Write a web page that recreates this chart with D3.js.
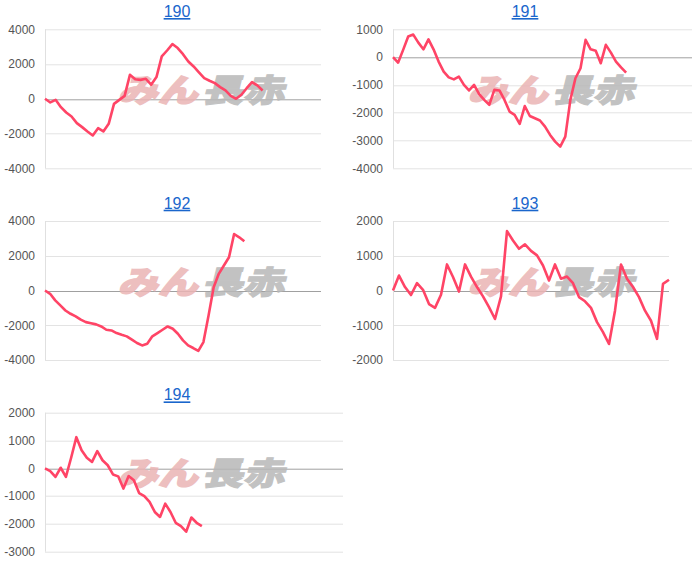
<!DOCTYPE html>
<html>
<head>
<meta charset="utf-8">
<script src="https://cdn.jsdelivr.net/npm/d3@7"></script>
<style>
  body { margin: 0; background: #fff; }
  svg { display: block; }
</style>
</head>
<body>
<svg width="700" height="576"></svg>
<script>
// machine numbers, one panel each
var machines = ["190", "191", "192", "193", "194"];

// cumulative difference per point
var series190 = [0, -210, -60, -480, -790, -1020, -1400, -1630, -1880, -2110, -1690, -1880, -1440, -290, -60, 170,
    1380, 1130, 1090, 1150, 810, 1250, 2440, 2780, 3150, 2920, 2570, 2150, 1860, 1520, 1190, 1040, 900, 670, 480,
    170, 0, 230, 610, 960, 770, 480];
var series191 = [0, -200, 260, 740, 810, 520, 280, 640, 280, -160, -520, -730, -800, -700, -1000, -1200, -1000,
    -1330, -1540, -1720, -1180, -1200, -1540, -1960, -2080, -2400, -1760, -2120, -2200, -2280, -2500, -2800, -3040,
    -3220, -2860, -1540, -760, -400, 620, 280, 230, -220, 440, 160, -160, -370, -560];
var series192 = [0, -190, -570, -860, -1150, -1340, -1490, -1680, -1820, -1880, -1950, -2070, -2260, -2300, -2450,
    -2550, -2640, -2830, -3020, -3160, -3060, -2640, -2450, -2260, -2070, -2200, -2490, -2870, -3160, -3310, -3480,
    -2970, -1440, 190, 960, 1440, 1910, 3250, 3060, 2830];
var series193 = [0, 430, 100, -130, 210, 20, -390, -500, -120, 750, 390, -30, 750, 400, 100, -170, -480, -820, -170,
    1710, 1440, 1200, 1330, 1140, 1010, 720, 290, 750, 340, 400, 210, -190, -310, -500, -910, -1200, -1540, -580,
    750, 340, 100, -190, -580, -870, -1390, 190, 310];
var series194 = [0, -100, -310, 20, -310, 380, 1120, 650, 380, 230, 620, 290, 110, -220, -290, -730, -280, -430,
    -890, -1000, -1210, -1570, -1750, -1270, -1570, -1960, -2080, -2280, -1770, -1960, -2080];
var allSeries = [series190, series191, series192, series193, series194];

// number of x slots on each panel's axis
var xSlots = [53, 60, 55, 47, 58];

// y tick labels per panel
var ticks190 = [-4000, -2000, 0, 2000, 4000];
var ticks191 = [-4000, -3000, -2000, -1000, 0, 1000];
var ticks192 = [-4000, -2000, 0, 2000, 4000];
var ticks193 = [-2000, -1000, 0, 1000, 2000];
var ticks194 = [-3000, -2000, -1000, 0, 1000, 2000];
var allTicks = [ticks190, ticks191, ticks192, ticks193, ticks194];

var svg = d3.select("svg");
var rowH = 191.7;
var colLeft = [45, 393];
var colMid = [177, 525];
var wmLeft = [110, 460];
var widths = [276, 299, 276, 276, 298];

machines.forEach(function(name, i) {
    var col = i % 2, row = Math.floor(i / 2);
    var top = row * rowH;
    var left = colLeft[col];
    var w = widths[i], h = 139;
    var tk = allTicks[i];

    var x = d3.scaleLinear().domain([0, xSlots[i] - 1]).range([0, w]);
    var y = d3.scaleLinear().domain(d3.extent(tk)).range([h, 0]);

    var g = svg.append("g").attr("transform", "translate(" + left + "," + (top + 29.3) + ")");

    // title link
    svg.append("text")
        .attr("x", colMid[col])
        .attr("y", top + 17)
        .attr("text-anchor", "middle")
        .style("font-family", "Arial, 'Liberation Sans', sans-serif")
        .style("font-size", "16px")
        .style("fill", "#1a66cc")
        .style("text-decoration", "underline")
        .text(name);

    // gridlines
    g.selectAll(".grid")
        .data(tk)
        .enter()
        .append("line")
        .attr("x1", 0)
        .attr("x2", w)
        .attr("y1", function(d) { return Math.round(y(d)) + 0.5; })
        .attr("y2", function(d) { return Math.round(y(d)) + 0.5; })
        .style("stroke", function(d) { return d == 0 ? "#a0a0a0" : "#e3e3e3"; })
        .style("stroke-width", 1);

    g.append("line")
        .attr("x1", 0.5).attr("x2", 0.5)
        .attr("y1", 0).attr("y2", h)
        .style("stroke", "#e0e0e0");

    // y labels
    var axis = d3.axisLeft(y).tickValues(tk).tickFormat(function(d) { return String(d); })
        .tickSize(0).tickPadding(10);
    var ag = g.append("g").call(axis);
    ag.select(".domain").remove();
    ag.selectAll("text")
        .style("font-family", "Arial, 'Liberation Sans', sans-serif")
        .style("font-size", "12px")
        .style("fill", "#555");

    // watermark (under the line)
    var wm = svg.append("g")
        .attr("transform", "translate(" + wmLeft[col] + "," + (top + 102) + ") skewX(-14)")
        .style("font-family", "'Noto Sans CJK JP', sans-serif")
        .style("font-weight", "900")
        .style("font-size", "32px")
        .style("opacity", 0.85);
    wm.append("text")
        .attr("x", 8).attr("y", 0)
        .attr("textLength", 80)
        .attr("lengthAdjust", "spacingAndGlyphs")
        .style("fill", "#eab4b4")
        .style("stroke", "#eab4b4")
        .style("stroke-width", 1.5)
        .text("みん");
    wm.append("text")
        .attr("x", 92).attr("y", 0)
        .attr("textLength", 82)
        .attr("lengthAdjust", "spacingAndGlyphs")
        .style("fill", "#b8b8b8")
        .style("stroke", "#b8b8b8")
        .style("stroke-width", 1)
        .text("長赤");

    // line
    var line = d3.line()
        .x(function(d, j) { return x(j); })
        .y(function(d) { return y(d); });

    svg.append("path")
        .datum(allSeries[i])
        .attr("transform", "translate(" + left + "," + (top + 29.3) + ")")
        .attr("d", line)
        .style("fill", "none")
        .style("stroke", "#ff4466")
        .style("stroke-width", 2.6)
        .style("stroke-linejoin", "round");
});
</script>
</body>
</html>
